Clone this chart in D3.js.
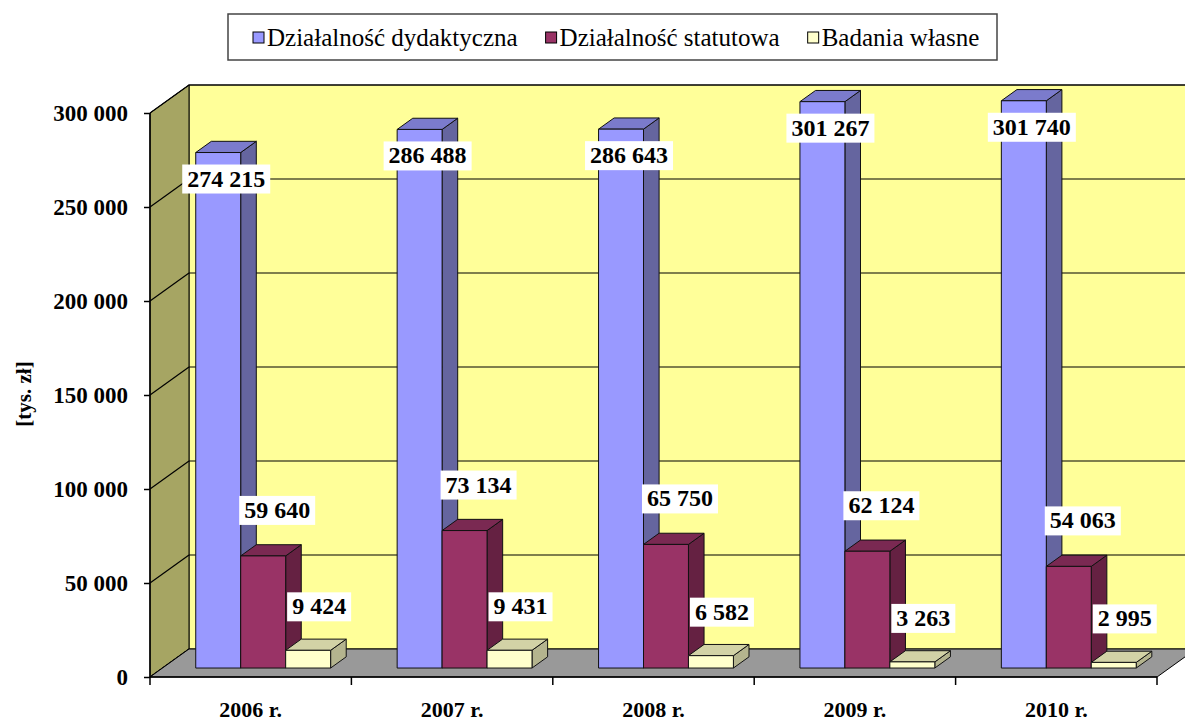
<!DOCTYPE html>
<html lang="pl">
<head>
    <meta charset="UTF-8">
    <title>Wydatki 2006-2010</title>
    <script src="https://cdn.jsdelivr.net/npm/d3@7/dist/d3.min.js"></script>
    <style>
        body{ margin:0; background:#fff; }
        .tick-lbl{ font-family:"Liberation Serif", "Times New Roman", serif; font-weight:bold; font-size:23px; fill:#000; }
        .val-lbl{ font-family:"Liberation Serif", "Times New Roman", serif; font-weight:bold; font-size:24px; fill:#000; }
        .legend-lbl{ font-family:"Liberation Serif", "Times New Roman", serif; font-size:25px; fill:#000; }
    </style>
</head>
<body>
<svg id="main" width="1185" height="722"></svg>
<script>
    // data
    let years = ['2006 r.', '2007 r.', '2008 r.', '2009 r.', '2010 r.'];
    let seriesNames = ['Działalność dydaktyczna', 'Działalność statutowa', 'Badania własne'];
    let dydaktyczna = [274215, 286488, 286643, 301267, 301740];
    let statutowa = [59640, 73134, 65750, 62124, 54063];
    let badania = [9424, 9431, 6582, 3263, 2995];
    let yTicks = [0, 50000, 100000, 150000, 200000, 250000, 300000];
    let yTitle = '[tys. zł]';

    let seriesValues = [dydaktyczna, statutowa, badania];
    // front, top, side colours per series
    let colors = [
        {front:'#9999ff', top:'#7b7bcc', side:'#65659f'},
        {front:'#993366', top:'#7a2952', side:'#652142'},
        {front:'#ffffcc', top:'#d2d2a6', side:'#b4b48e'}
    ];

    let svg = d3.select('svg#main');
    let fmt = d3.formatLocale({decimal:',', thousands:' ', grouping:[3], currency:['', '']}).format(',d');

    // 3d depth of the whole box and of the bars
    let DX = 39, DY = -28;
    let zFront = 0.32, zBack = 0.72;

    let y = d3.scaleLinear().domain([0, 300000]).range([677, 113]);
    let x0 = d3.scaleBand().domain(years).range([150, 1157]);
    let x1 = d3.scaleBand().domain(seriesNames).range([0, x0.bandwidth()]).paddingOuter(0.74);

    let left = x0.range()[0], right = x0.range()[1];
    let yTop = y(300000), yBot = y(0);

    // back wall
    svg.append('rect')
        .attr('x', left + DX).attr('y', yTop + DY)
        .attr('width', right - left).attr('height', yBot - yTop)
        .attr('fill', '#ffff99').attr('stroke', '#000').attr('stroke-width', 1);

    // side wall
    svg.append('polygon')
        .attr('points', [[left, yTop], [left + DX, yTop + DY], [left + DX, yBot + DY], [left, yBot]].join(' '))
        .attr('fill', '#a6a563').attr('stroke', '#000').attr('stroke-width', 1);

    // gridlines on the walls
    let grid = svg.append('g').attr('stroke', '#000').attr('stroke-width', 1.2);
    grid.selectAll('line.back')
        .data(yTicks.filter(function(d){ return d > 0; }))
        .enter().append('line')
        .attr('x1', left + DX).attr('x2', right + DX)
        .attr('y1', function(d){ return y(d) + DY; })
        .attr('y2', function(d){ return y(d) + DY; });
    grid.selectAll('line.side')
        .data(yTicks)
        .enter().append('line')
        .attr('x1', left).attr('x2', left + DX)
        .attr('y1', function(d){ return y(d); })
        .attr('y2', function(d){ return y(d) + DY; });

    // floor
    svg.append('polygon')
        .attr('points', [[left, yBot], [left + DX, yBot + DY], [right + DX, yBot + DY], [right, yBot]].join(' '))
        .attr('fill', '#999999').attr('stroke', '#000').attr('stroke-width', 1);

    // bars, left to right
    let bars = [];
    years.forEach(function(yr, j){
        seriesNames.forEach(function(name, i){
            bars.push({year:yr, name:name, i:i, v:seriesValues[i][j]});
        });
    });

    let w = x1.bandwidth();
    let bx = DX * (zBack - zFront), by = DY * (zBack - zFront);
    let barG = svg.append('g').attr('stroke', '#111').attr('stroke-width', 1).attr('stroke-linejoin', 'round');
    bars.forEach(function(d){
        let fx = x0(d.year) + x1(d.name) + DX * zFront;
        let fy = y(d.v) + DY * zFront;
        let fb = y(0) + DY * zFront;
        d.fx = fx; d.fy = fy;
        let g = barG.append('g');
        g.append('polygon')
            .attr('points', [[fx + w, fy], [fx + w + bx, fy + by], [fx + w + bx, fb + by], [fx + w, fb]].join(' '))
            .attr('fill', colors[d.i].side);
        g.append('polygon')
            .attr('points', [[fx, fy], [fx + bx, fy + by], [fx + w + bx, fy + by], [fx + w, fy]].join(' '))
            .attr('fill', colors[d.i].top);
        g.append('rect')
            .attr('x', fx).attr('y', fy).attr('width', w).attr('height', fb - fy)
            .attr('fill', colors[d.i].front);
    });

    // y axis
    let yAxis = svg.append('g')
        .attr('transform', 'translate(' + left + ',0)')
        .call(d3.axisLeft(y).tickValues(yTicks).tickSize(6).tickPadding(16).tickFormat(fmt));
    yAxis.select('.domain').attr('stroke', '#000').attr('stroke-width', 1.5).attr('d', 'M0,' + yTop + 'V' + yBot);
    yAxis.selectAll('.tick line').attr('stroke', '#000').attr('stroke-width', 1.5);
    yAxis.selectAll('.tick text').attr('class', 'tick-lbl').attr('font-family', null).attr('font-size', null);

    // x axis
    let xAxis = svg.append('g')
        .attr('transform', 'translate(0,' + yBot + ')')
        .call(d3.axisBottom(x0).tickSize(0).tickPadding(24));
    xAxis.select('.domain').attr('stroke', '#000').attr('stroke-width', 1.5).attr('d', 'M' + left + ',0H' + right);
    xAxis.selectAll('.tick text').attr('class', 'tick-lbl').style('font-size', '22px').attr('font-family', null);
    xAxis.selectAll('line.bound')
        .data(years.map(function(d){ return x0(d); }).concat([right]))
        .enter().append('line')
        .attr('x1', function(d){ return d; }).attr('x2', function(d){ return d; })
        .attr('y1', 0).attr('y2', 8)
        .attr('stroke', '#000').attr('stroke-width', 1.5);

    // y title
    svg.append('text')
        .attr('class', 'tick-lbl')
        .style('font-size', '21px')
        .attr('text-anchor', 'middle')
        .attr('transform', 'translate(31,394) rotate(-90)')
        .text(yTitle);

    // value labels
    let offsets = [{dx:8, dy:26}, {dx:14, dy:-46}, {dx:11, dy:-44}];
    let lblG = svg.append('g');
    bars.forEach(function(d){
        let cx = d.fx + w / 2 + offsets[d.i].dx;
        let cy = d.fy + offsets[d.i].dy;
        let g = lblG.append('g');
        let t = g.append('text')
            .attr('class', 'val-lbl')
            .attr('x', cx).attr('y', cy)
            .attr('text-anchor', 'middle')
            .attr('dominant-baseline', 'central')
            .text(fmt(d.v));
        let bb = t.node().getBBox();
        g.insert('rect', 'text')
            .attr('x', bb.x - 5).attr('y', cy - 14)
            .attr('width', bb.width + 10).attr('height', 29)
            .attr('fill', '#fff');
    });

    // legend
    let legend = svg.append('g');
    legend.append('rect')
        .attr('x', 228).attr('y', 14).attr('width', 769).attr('height', 46)
        .attr('fill', '#fff').attr('stroke', '#444').attr('stroke-width', 1.5);
    let lx = 253;
    seriesNames.forEach(function(name, i){
        legend.append('rect')
            .attr('x', lx).attr('y', 32).attr('width', 11).attr('height', 11)
            .attr('fill', colors[i].front).attr('stroke', '#000').attr('stroke-width', 1);
        let t = legend.append('text')
            .attr('class', 'legend-lbl')
            .attr('x', lx + 14).attr('y', 46)
            .text(name);
        lx = lx + 14 + t.node().getComputedTextLength() + 28;
    });
</script>
</body>
</html>
